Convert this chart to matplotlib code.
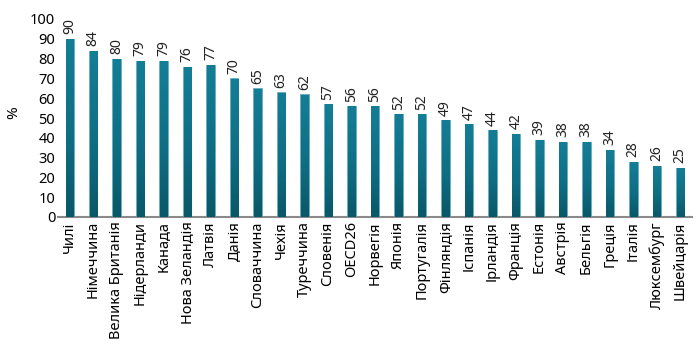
import matplotlib.pyplot as plt
import numpy as np
from matplotlib.colors import LinearSegmentedColormap

plt.rcParams['font.family'] = ['Noto Sans', 'DejaVu Sans']

countries = ['Чилі', 'Німеччина', 'Велика Британія', 'Нідерланди', 'Канада',
             'Нова Зеландія', 'Латвія', 'Данія', 'Словаччина', 'Чехія',
             'Туреччина', 'Словенія', 'OECD26', 'Норвегія', 'Японія',
             'Португалія', 'Фінляндія', 'Іспанія', 'Ірландія', 'Франція',
             'Естонія', 'Австрія', 'Бельгія', 'Греція', 'Італія',
             'Люксембург', 'Швейцарія']
values = [90, 84, 80, 79, 79, 76, 77, 70, 65, 63, 62, 57, 56, 56, 52, 52,
          49, 47, 44, 42, 39, 38, 38, 34, 28, 26, 25]

fig = plt.figure(figsize=(6.97, 3.54), dpi=100)
ax = fig.add_axes([58 / 697, (354 - 217) / 354, 634 / 697, 198 / 354])

x = np.arange(len(values))
bars = ax.bar(x, values, width=0.36, color='#0f7189', edgecolor='#6aaebf',
              linewidth=0.6, zorder=2)

# vertical gradient inside each bar (darker at the bottom)
cmap = LinearSegmentedColormap.from_list(
    'teal', [(0, '#0a5767'), (0.45, '#0f6e84'), (1, '#137e96')])
grad = np.linspace(0, 1, 256).reshape(-1, 1)
for b in bars:
    bx, by = b.get_x(), b.get_y()
    w, h = b.get_width(), b.get_height()
    im = ax.imshow(grad, cmap=cmap, origin='lower', aspect='auto',
                   extent=(bx + 0.03, bx + w - 0.03, by, by + h - 0.4),
                   zorder=3)
    im.set_clip_path(b)

for xi, v in zip(x, values):
    ax.text(xi, v + 2.2, str(v), rotation=90, ha='center', va='bottom',
            fontsize=10, color='#222222')

ax.set_xlim(-0.5, len(values) - 0.5)
ax.set_ylim(0, 100)
ax.set_yticks(range(0, 101, 10))
ax.set_xticks(x)
ax.set_xticklabels(countries, rotation=90, fontsize=10.5)
ax.tick_params(axis='both', length=0, labelsize=10.5)
ax.tick_params(axis='x', pad=3)
ax.tick_params(axis='y', pad=2)
for s in ['top', 'right', 'left']:
    ax.spines[s].set_visible(False)
ax.spines['bottom'].set_color('#8a8a8a')
ax.spines['bottom'].set_linewidth(1.5)
ax.set_ylabel('%', fontsize=11)
ax.yaxis.set_label_coords(-0.058, 0.525)

fig.savefig('out.png', dpi=100)
